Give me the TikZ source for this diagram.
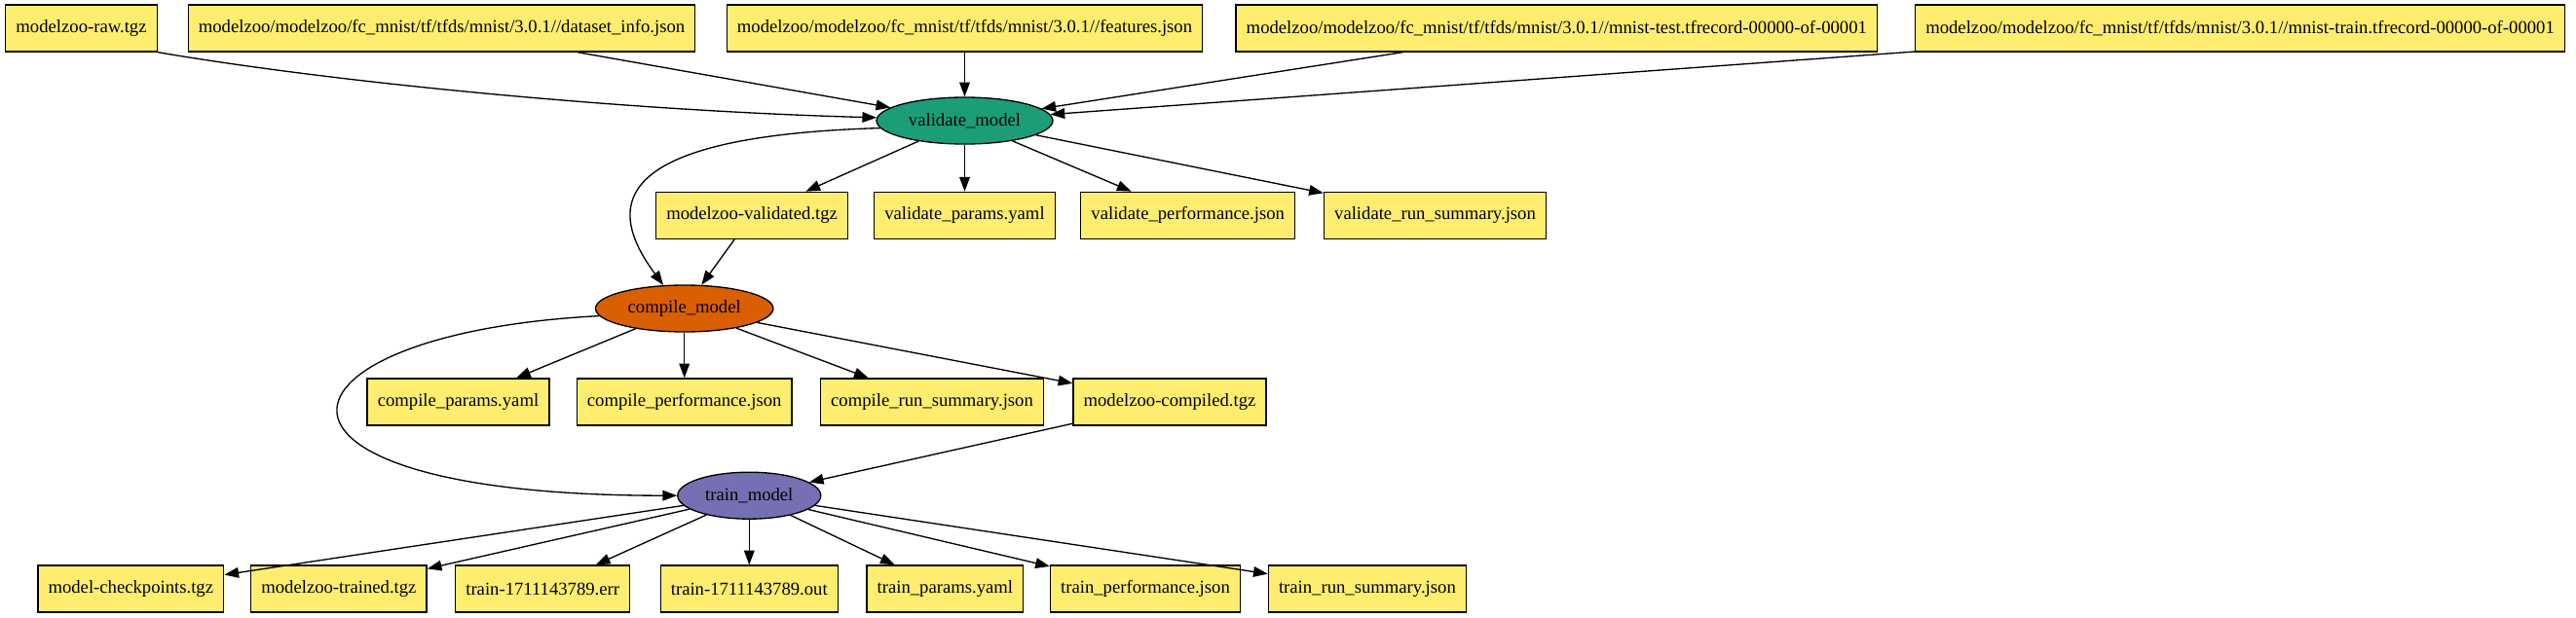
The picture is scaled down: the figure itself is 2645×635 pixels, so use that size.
\documentclass[tikz,border=0pt]{standalone}
\usepackage{fontspec}
\setmainfont{Liberation Serif}
\usetikzlibrary{shapes.geometric,arrows.meta}
\definecolor{filefill}{HTML}{FFED6F}
\definecolor{validatefill}{HTML}{1B9E77}
\definecolor{compilefill}{HTML}{D95F02}
\definecolor{trainfill}{HTML}{7570B3}

\begin{document}
\begin{tikzpicture}
[linedecorate/.style={-{Triangle[length=11pt,width=8pt]},line width=1pt},%
  filedecorate/.style={shape=rectangle,draw,line width=1pt,fill=filefill,minimum height=36pt,inner xsep=8pt,inner ysep=0pt,font=\fontsize{14pt}{16pt}\selectfont},%
  stepdecorate/.style={shape=ellipse,draw,line width=1pt,minimum height=36pt,inner sep=0pt,font=\fontsize{14pt}{16pt}\selectfont},%
  x=0.75pt,y=-0.75pt]
\useasboundingbox (0,0) rectangle (2645,635);
%% processing steps
\foreach \nodename/\x/\y/\w/\c/\steplabel in {
validate/990.5/124/135.75pt/validatefill/{validate\_model},
compile/702.7/317/136.8pt/compilefill/{compile\_model},
train/769.3/509.2/110.25pt/trainfill/{train\_model}}
{
  \node (\nodename) at (\x,\y) [stepdecorate,minimum width=\w,fill=\c] {\steplabel};
}
%% files
\foreach \nodename/\x/\y/\filename in {
raw/83.5/29/{modelzoo-raw.tgz},
datasetinfo/453.5/29/{modelzoo/modelzoo/fc\_mnist/tf/tfds/mnist/3.0.1//dataset\_info.json},
features/990.5/29/{modelzoo/modelzoo/fc\_mnist/tf/tfds/mnist/3.0.1//features.json},
mnisttest/1598.3/29/{modelzoo/modelzoo/fc\_mnist/tf/tfds/mnist/3.0.1//mnist-test.tfrecord-00000-of-00001},
mnisttrain/2300/29/{modelzoo/modelzoo/fc\_mnist/tf/tfds/mnist/3.0.1//mnist-train.tfrecord-00000-of-00001},
validated/772.1/221.3/{modelzoo-validated.tgz},
validateparams/990.5/221.3/{validate\_params.yaml},
validateperf/1219.7/221.3/{validate\_performance.json},
validaterun/1473.5/221.3/{validate\_run\_summary.json},
compileparams/470.5/413/{compile\_params.yaml},
compileperf/702.7/413/{compile\_performance.json},
compilerun/957/413/{compile\_run\_summary.json},
compiled/1201/413/{modelzoo-compiled.tgz},
checkpoints/134.3/605/{model-checkpoints.tgz},
trained/347.9/605/{modelzoo-trained.tgz},
trainerr/557.2/605/{train-1711143789.err},
trainout/769.3/605/{train-1711143789.out},
trainparams/970.4/605/{train\_params.yaml},
trainperf/1176/605/{train\_performance.json},
trainrun/1403.9/605/{train\_run\_summary.json}}
{
  \node (\nodename) at (\x,\y) [filedecorate] {\filename};
}
%% curved edges
\draw[linedecorate] (raw.south east) .. controls +(187.6,32) and +(-250,-6.7) .. (validate.178);
\draw[linedecorate] (validate.185) .. controls +(-284.5,8.5) and +(-58,-78.6) .. (compile.132);
\draw[linedecorate] (compile.185) .. controls +(-350,18) and +(-470,0) .. (train.west);
%% straight edges
\path
\foreach \startnode/\endnode in {
datasetinfo/validate, features/validate, mnisttest/validate, mnisttrain/validate,
validate/validated, validate/validateparams, validate/validateperf, validate/validaterun,
validated/compile,
compile/compileparams, compile/compileperf, compile/compilerun, compile/compiled,
compiled/train,
train/checkpoints, train/trained, train/trainerr, train/trainout,
train/trainparams, train/trainperf, train/trainrun}
{
  (\startnode) edge[linedecorate] (\endnode)
};
\end{tikzpicture}
\end{document}
